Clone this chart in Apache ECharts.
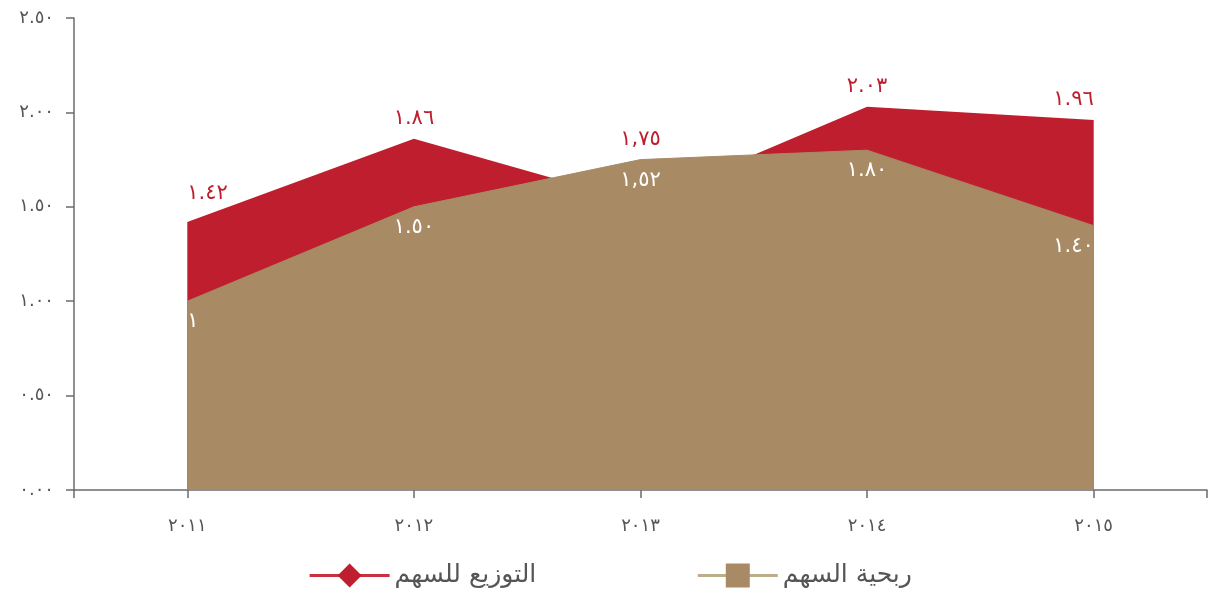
<!DOCTYPE html>
<html>
<head>
<meta charset="utf-8">
<script src="https://cdn.jsdelivr.net/npm/echarts@6/dist/echarts.min.js"></script>
<style>
  html, body { margin: 0; padding: 0; background: #fff; }
  #chart { width: 1220px; height: 597px; }
</style>
</head>
<body>
<div id="chart"></div>
<script>
// data
var years = [2011, 2012, 2013, 2014, 2015]
var yearLabels = ['٢٠١١', '٢٠١٢', '٢٠١٣', '٢٠١٤', '٢٠١٥']
var dividend = [1.42, 1.86, 1.52, 2.03, 1.96]
var dividendLabels = ['١.٤٢', '١.٨٦', '١,٧٥', '٢.٠٣', '١.٩٦']
var earnings = [1.00, 1.50, 1.75, 1.80, 1.40]
var earningsLabels = ['١', '١.٥٠', '١,٥٢', '١.٨٠', '١.٤٠']
var yTicks = [0, 0.5, 1, 1.5, 2, 2.5]
var yTickLabels = ['٠.٠٠', '٠.٥٠', '١.٠٠', '١.٥٠', '٢.٠٠', '٢.٥٠']
var dividendName = 'التوزيع للسهم'
var earningsName = 'ربحية السهم'

var red = '#be1e2d'
var tan = '#a88b64'
var axisColor = '#6b6b6b'
var textColor = '#555'
var font = 'DejaVu Sans'

function edgeAlign(i) {
  if (i === 0) return 'left'
  if (i === years.length - 1) return 'right'
  return 'center'
}

function buildData(values, labels, extra) {
  return values.map(function(v, i) {
    var label = {
      formatter: labels[i],
      align: edgeAlign(i)
    }
    if (extra && extra[i]) Object.assign(label, extra[i])
    return { value: [years[i], v], label: label }
  })
}

var chart = echarts.init(document.getElementById('chart'))

chart.setOption({
  animation: false,
  textStyle: { fontFamily: font },
  grid: {
    left: 74,
    right: 13,
    top: 18,
    bottom: 107,
    containLabel: false
  },
  legend: {
    bottom: 4,
    left: 'center',
    itemWidth: 80,
    itemHeight: 30,
    itemGap: 160,
    textStyle: { fontSize: 25, color: textColor, fontFamily: font },
    data: [
      { name: dividendName, lineStyle: { color: '#c8323f', width: 3 } },
      { name: earningsName, lineStyle: { color: '#bcae86', width: 3 } }
    ]
  },
  xAxis: {
    type: 'value',
    min: 2010.5,
    max: 2015.5,
    splitLine: { show: false },
    axisLine: { lineStyle: { color: axisColor, width: 1.5 } },
    axisTick: {
      length: 8,
      lineStyle: { color: axisColor, width: 1.5 },
      customValues: [2010.5].concat(years, [2015.5])
    },
    axisLabel: {
      customValues: years,
      margin: 27,
      fontSize: 18,
      color: textColor,
      formatter: function(v) {
        return yearLabels[years.indexOf(v)]
      }
    }
  },
  yAxis: {
    type: 'value',
    min: 0,
    max: 2.5,
    interval: 0.5,
    splitLine: { show: false },
    axisLine: { show: true, lineStyle: { color: axisColor, width: 1.5 } },
    axisTick: { show: true, length: 8, lineStyle: { color: axisColor, width: 1.5 } },
    axisLabel: {
      margin: 20,
      fontSize: 18,
      color: textColor,
      formatter: function(v) {
        var i = yTicks.indexOf(v)
        return i < 0 ? '' : yTickLabels[i]
      }
    }
  },
  series: [
    {
      name: dividendName,
      type: 'line',
      symbol: 'diamond',
      symbolSize: 0.1,
      itemStyle: { color: red },
      lineStyle: { color: red, width: 0 },
      areaStyle: { color: red, opacity: 1 },
      label: {
        show: true,
        position: 'top',
        distance: 10,
        fontSize: 21,
        color: red
      },
      data: buildData(dividend, dividendLabels, { 0: { distance: 18 }, 2: { offset: [0, -43] } })
    },
    {
      name: earningsName,
      type: 'line',
      symbol: 'rect',
      symbolSize: 0.1,
      itemStyle: { color: tan },
      lineStyle: { color: tan, width: 1 },
      areaStyle: { color: tan, opacity: 1 },
      label: {
        show: true,
        position: 'bottom',
        distance: 10,
        fontSize: 21,
        color: '#fff'
      },
      data: buildData(earnings, earningsLabels)
    }
  ]
})
</script>
</body>
</html>
